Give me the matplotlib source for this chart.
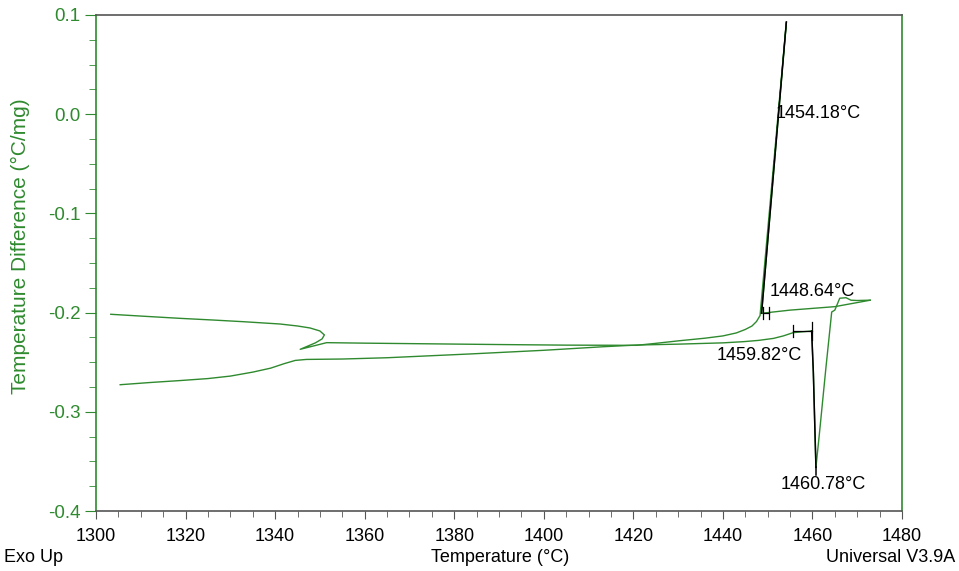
import matplotlib.pyplot as plt
from matplotlib.ticker import MultipleLocator, FormatStrFormatter

plt.rcParams['font.family'] = ['Liberation Sans', 'DejaVu Sans']
plt.rcParams['axes.unicode_minus'] = False

# === DATA ===
# heating run: starts low on the left, melting dip near 1460 C
heat_T = [1305.4, 1312, 1318.8, 1325, 1330, 1335, 1339, 1342, 1344.5, 1347,
          1355, 1365, 1383.5, 1400, 1413.3, 1420.7, 1430, 1440, 1444.6, 1448,
          1451.3, 1453.5, 1455.7, 1459.82, 1460.2, 1460.78, 1461.6, 1463.0,
          1464.3, 1465.0, 1466.1, 1467.5, 1468.6, 1470, 1472.9]
heat_y = [-0.2727, -0.2705, -0.2685, -0.2665, -0.2640, -0.2600, -0.2560, -0.2515, -0.2482, -0.2472,
          -0.2468, -0.2455, -0.2417, -0.2380, -0.2344, -0.2327, -0.2318, -0.2305, -0.2293, -0.2280,
          -0.2260, -0.2235, -0.2202, -0.2185, -0.2600, -0.3560, -0.3200, -0.2560,
          -0.1994, -0.1975, -0.1855, -0.1850, -0.1875, -0.1878, -0.1875]

# cooling run: back from the right end, solidification spike, hook near 1346 C
cool_T = [1472.9, 1465, 1455, 1448.64, 1454.18, 1448.3, 1447.5, 1446.5, 1445, 1443,
          1440, 1436, 1430, 1425, 1420.7, 1405, 1390, 1375, 1360, 1351.5,
          1345.6, 1349, 1350.5, 1351, 1350, 1347.8, 1345, 1341.1, 1333, 1326.2,
          1318.8, 1310, 1303.3]
cool_y = [-0.1875, -0.1940, -0.1975, -0.2007, 0.0930, -0.2030, -0.2090, -0.2135, -0.2170, -0.2205,
          -0.2235, -0.2258, -0.2285, -0.2310, -0.2330, -0.2328, -0.2322, -0.2315, -0.2308, -0.2303,
          -0.2370, -0.2305, -0.2265, -0.2225, -0.2185, -0.2155, -0.2135, -0.2115, -0.2092, -0.2075,
          -0.2058, -0.2035, -0.2017]

# analysis markers
onset_heat = 1459.82
onset_heat_base = [1455.6, 1459.82]
onset_heat_y = -0.2186
peak_heat = 1460.78
peak_heat_y = -0.3560
onset_cool = 1448.64
onset_cool_base = [1448.9, 1450.3]
onset_cool_y = -0.2007
peak_cool = 1454.18
peak_cool_y = 0.0930

green = '#2f8a2f'
dark = '#555555'

fig = plt.figure(figsize=(9.59, 5.71), dpi=100)
ax = fig.add_axes([96 / 959, 1 - 511 / 571, 806 / 959, 496 / 571])

ax.plot(heat_T, heat_y, color=green, lw=1.0)
ax.plot(cool_T, cool_y, color=green, lw=1.0)

# black overlays from the analysis (peak / onset markers)
ax.plot([onset_cool, peak_cool], [onset_cool_y, peak_cool_y], color='black', lw=1.1)
ax.plot([onset_heat, 1460.2, peak_heat], [onset_heat_y, -0.26, peak_heat_y], color='black', lw=1.1)
ax.plot([peak_heat, peak_heat], [peak_heat_y, peak_heat_y - 0.008], color='black', lw=1.1)

ax.plot(onset_heat_base, [onset_heat_y, onset_heat_y], color='black', lw=0.9)
for t, h in zip(onset_heat_base, [0.0065, 0.009]):
    ax.plot([t, t], [onset_heat_y - h, onset_heat_y + h], color='black', lw=0.9)
ax.plot(onset_cool_base, [onset_cool_y, onset_cool_y], color='black', lw=0.9)
for t in onset_cool_base:
    ax.plot([t, t], [onset_cool_y - 0.006, onset_cool_y + 0.006], color='black', lw=0.9)

ann = dict(fontsize=13, color='black', va='center', ha='left')
ax.text(1451.8, 0.001, f'{peak_cool:.2f}°C', **ann)
ax.text(1450.5, -0.179, f'{onset_cool:.2f}°C', **ann)
ax.text(1438.5, -0.243, f'{onset_heat:.2f}°C', **ann)
ax.text(1453.0, -0.373, f'{peak_heat:.2f}°C', **ann)

ax.set_xlim(1300, 1480)
ax.set_ylim(-0.4, 0.1)
ax.xaxis.set_major_locator(MultipleLocator(20))
ax.xaxis.set_minor_locator(MultipleLocator(5))
ax.yaxis.set_major_locator(MultipleLocator(0.1))
ax.yaxis.set_minor_locator(MultipleLocator(0.025))
ax.yaxis.set_major_formatter(FormatStrFormatter('%.1f'))

ax.tick_params(axis='y', which='major', length=8, color=green, labelcolor=green,
               labelsize=13.5, direction='out', pad=3)
ax.tick_params(axis='y', which='minor', length=5, color=green, direction='out')
ax.tick_params(axis='x', which='major', length=6, color=dark, labelcolor='black',
               labelsize=13, direction='out', pad=6)
ax.tick_params(axis='x', which='minor', length=4, color=dark, direction='out')

ax.spines['left'].set_color(green)
ax.spines['right'].set_color(green)
ax.spines['top'].set_color(dark)
ax.spines['bottom'].set_color(dark)
for s in ax.spines.values():
    s.set_linewidth(1.2)

fig.text(20 / 959, 1 - 246 / 571, 'Temperature Difference (°C/mg)', rotation=90,
         color=green, fontsize=15, ha='center', va='center')
fig.text(4 / 959, 1 - 557 / 571, 'Exo Up', fontsize=13, ha='left', va='center')
fig.text(500 / 959, 1 - 557 / 571, 'Temperature (°C)', fontsize=13, ha='center', va='center')
fig.text(955 / 959, 1 - 557 / 571, 'Universal V3.9A', fontsize=13, ha='right', va='center')

plt.savefig('out.png', dpi=100)
